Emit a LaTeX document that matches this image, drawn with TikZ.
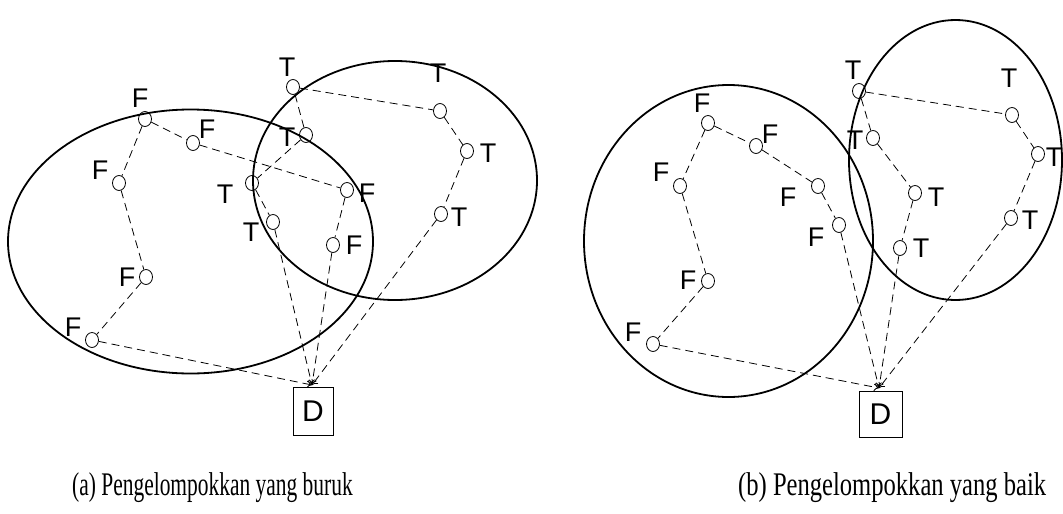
\documentclass[tikz,border=0pt]{standalone}
\usepackage{fontspec}
\usepackage{graphicx}
\newfontfamily\labfont{Liberation Sans}
\newfontfamily\capfont{Liberation Serif}
\usetikzlibrary{arrows.meta,shapes.geometric}
\begin{document}
\begin{tikzpicture}[x=1pt,y=-1pt,
  pt/.style={ellipse,draw,line width=0.8pt,minimum width=13pt,minimum height=15pt,inner sep=0pt},
  lab/.style={font=\labfont\fontsize{27}{27}\selectfont,inner sep=0pt},
  link/.style={draw,line width=0.8pt,dash pattern=on 8pt off 5pt},
  tolink/.style={link,-{To[length=5pt,width=8pt]}},
  group/.style={draw,ellipse,line width=1.8pt,inner sep=0pt},
  dbox/.style={draw,line width=0.8pt,inner sep=0pt,font=\labfont\fontsize{30}{30}\selectfont},
  capt/.style={font=\capfont\fontsize{33}{33}\selectfont,inner sep=0pt,anchor=base west}]
\useasboundingbox (0,0) rectangle (1063,514);
\fill[white] (0,0) rectangle (1063,514);

% ---------- (a) ----------
\node[group,minimum width=365pt,minimum height=264pt] (ga1) at (190.5,241.5) {};
\node[group,minimum width=284pt,minimum height=239pt] (ga2) at (395,180.5) {};

\node[pt] (a1) at (145,119) {};
\node[pt] (a2) at (193,143) {};
\node[pt] (a3) at (119,183) {};
\node[pt] (a4) at (146,277) {};
\node[pt] (a5) at (92,340) {};
\node[pt] (a6) at (347,190) {};
\node[pt] (a7) at (333,245) {};
\node[pt] (a8) at (293,87) {};
\node[pt] (a9) at (440,111) {};
\node[pt] (a10) at (467,151) {};
\node[pt] (a11) at (441,214) {};
\node[pt] (a12) at (306,135) {};
\node[pt] (a13) at (252,183) {};
\node[pt] (a14) at (273,222) {};

\node[dbox,minimum width=40pt,minimum height=48pt] (Da) at (313,411) {D};
\coordinate (da) at (312,385);

\draw[link] (a1) -- (a3);
\draw[link] (a3) -- (a4);
\draw[link] (a4) -- (a5);
\draw[tolink] (a5) -- (da);
\draw[link] (a1) -- (a2);
\draw[link] (a2) -- (a6);
\draw[link] (a6) -- (a7);
\draw[tolink] (a7) -- (da);
\draw[link] (a8) -- (a9);
\draw[link] (a9) -- (a10);
\draw[link] (a10) -- (a11);
\draw[tolink] (a11) -- (da);
\draw[link] (a8) -- (a12);
\draw[link] (a12) -- (a13);
\draw[link] (a13) -- (a14);
\draw[tolink] (a14) -- (da);

\node[lab] (la1) at (140,98) {F};
\node[lab] (la2) at (207,129) {F};
\node[lab] (la3) at (100,170) {F};
\node[lab] (la4) at (127,277) {F};
\node[lab] (la5) at (73,327) {F};
\node[lab] (la6) at (367,193) {F};
\node[lab] (la7) at (354,245) {F};
\node[lab] (la8) at (287,67) {T};
\node[lab] (la9) at (438,73) {T};
\node[lab] (la10) at (488,153) {T};
\node[lab] (la11) at (459,217) {T};
\node[lab] (la12) at (287,137) {T};
\node[lab] (la13) at (225,194) {T};
\node[lab] (la14) at (251,232) {T};

% ---------- (b) ----------
\node[group,minimum width=289pt,minimum height=312pt] (gb1) at (728.5,241) {};
\node[group,minimum width=213pt,minimum height=280pt] (gb2) at (955.5,160) {};

\node[pt] (b1) at (708,123) {};
\node[pt] (b2) at (756,146) {};
\node[pt] (b3) at (680,186) {};
\node[pt] (b4) at (818,186) {};
\node[pt] (b5) at (839,225) {};
\node[pt] (b6) at (708,281) {};
\node[pt] (b7) at (653,344) {};
\node[pt] (b8) at (859,91) {};
\node[pt] (b9) at (1012,115) {};
\node[pt] (b10) at (1038,154) {};
\node[pt] (b11) at (1011,218) {};
\node[pt] (b12) at (873,138) {};
\node[pt] (b13) at (915,193) {};
\node[pt] (b14) at (900,248) {};

\node[dbox,minimum width=43pt,minimum height=46pt] (Db) at (880.5,414) {D};
\coordinate (db) at (879,388);

\draw[link] (b1) -- (b3);
\draw[link] (b3) -- (b6);
\draw[link] (b6) -- (b7);
\draw[tolink] (b7) -- (db);
\draw[link] (b1) -- (b2);
\draw[link] (b2) -- (b4);
\draw[link] (b4) -- (b5);
\draw[tolink] (b5) -- (db);
\draw[link] (b8) -- (b9);
\draw[link] (b9) -- (b10);
\draw[link] (b10) -- (b11);
\draw[tolink] (b11) -- (db);
\draw[link] (b8) -- (b12);
\draw[link] (b12) -- (b13);
\draw[link] (b13) -- (b14);
\draw[tolink] (b14) -- (db);

\node[lab] (lb1) at (702,103) {F};
\node[lab] (lb2) at (770,134) {F};
\node[lab] (lb3) at (661,172) {F};
\node[lab] (lb4) at (788,197) {F};
\node[lab] (lb5) at (816,237) {F};
\node[lab] (lb6) at (688,280) {F};
\node[lab] (lb7) at (633,332) {F};
\node[lab] (lb8) at (853,70) {T};
\node[lab] (lb9) at (1009,78) {T};
\node[lab] (lb10) at (1054,157) {T};
\node[lab] (lb11) at (1030,220) {T};
\node[lab] (lb12) at (855,140) {T};
\node[lab] (lb13) at (936,197) {T};
\node[lab] (lb14) at (921,248) {T};

% ---------- captions ----------
\node[capt] (capa) at (72,495) {\scalebox{0.65}[1]{(a) Pengelompokkan yang buruk}};
\node[capt] (capb) at (738,495) {\scalebox{0.745}[1]{(b) Pengelompokkan yang baik}};
\end{tikzpicture}
\end{document}
